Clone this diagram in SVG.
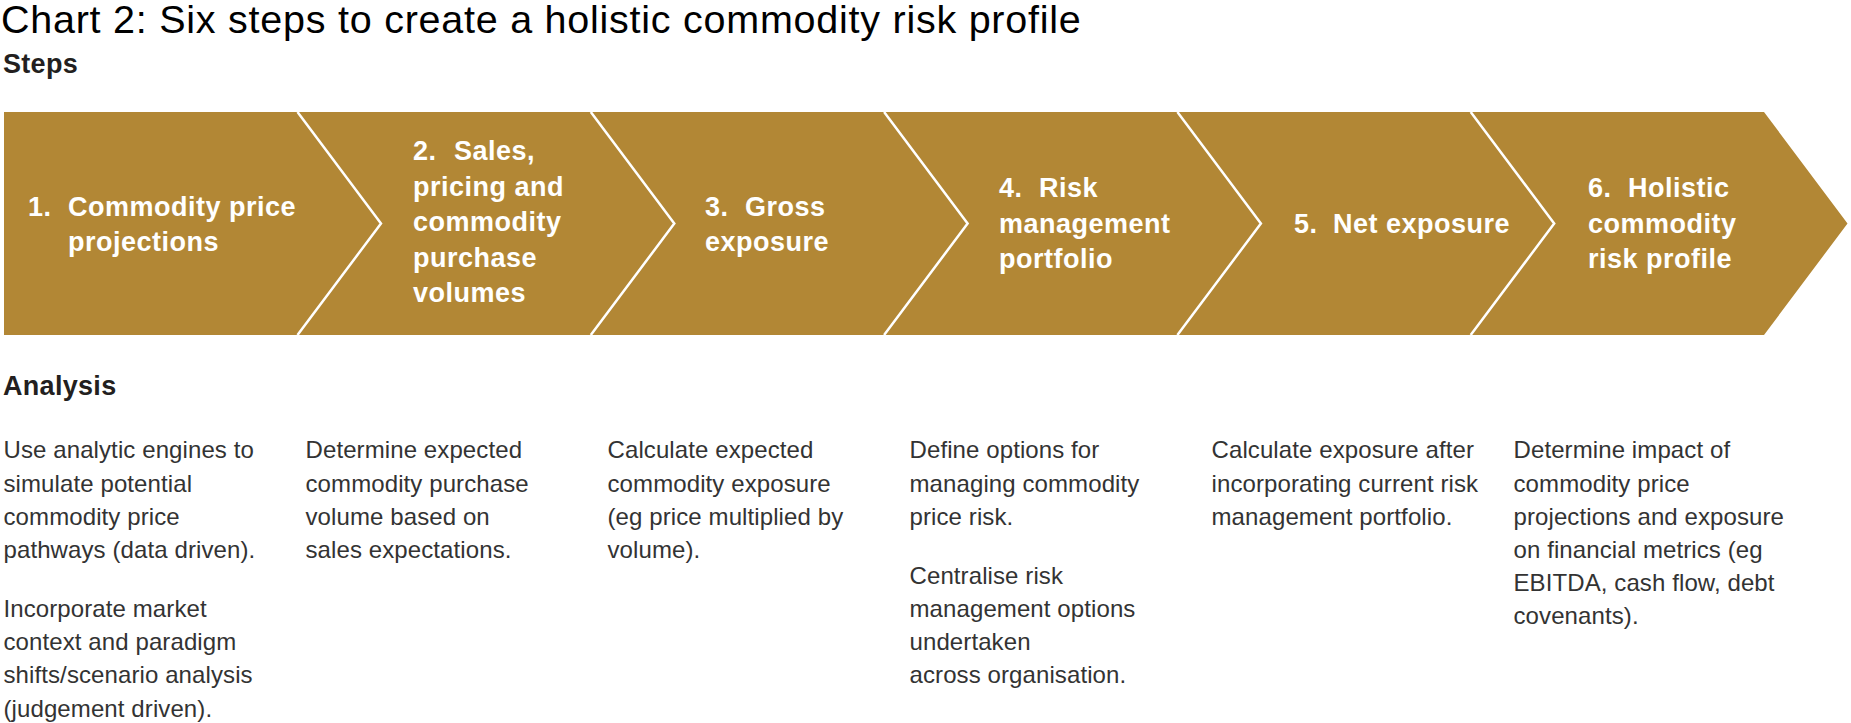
<svg xmlns="http://www.w3.org/2000/svg" width="1851" height="723" viewBox="0 0 1851 723">
<style>
.bg{fill:#ffffff}
.band{fill:#B28735}
.sep{fill:none;stroke:#ffffff;stroke-width:2.5;stroke-linejoin:miter}
.title{font-family:"Liberation Sans",Arial,sans-serif;font-size:39.5px;fill:#000000;letter-spacing:0.75px}
.head{font-family:"Liberation Sans",Arial,sans-serif;font-size:27px;font-weight:bold;fill:#231F20;letter-spacing:0.3px}
.step{font-family:"Liberation Sans",Arial,sans-serif;font-size:27px;font-weight:bold;fill:#ffffff;letter-spacing:0.5px}
.body{font-family:"Liberation Sans",Arial,sans-serif;font-size:24px;fill:#333333;letter-spacing:0.1px}
</style>
<rect class="bg" x="0" y="0" width="1851" height="723"/>
<text class="title" x="1" y="33">Chart 2: Six steps to create a holistic commodity risk profile</text>
<text class="head" x="3" y="73">Steps</text>

<g id="step1">
<polygon class="band" points="4,112 297.5,112 381,223.5 297.5,335 4,335"/>
<text class="step"><tspan x="28" y="215.5">1.</tspan><tspan x="68" y="215.5">Commodity price</tspan><tspan x="68" y="250.5">projections</tspan></text>
</g>
<g id="step2">
<polygon class="band" points="297.5,112 590.8,112 674.3,223.5 590.8,335 297.5,335 381,223.5"/>
<text class="step"><tspan x="413" y="160">2.</tspan><tspan x="454" y="160">Sales,</tspan><tspan x="413" y="195.5">pricing and</tspan><tspan x="413" y="231">commodity</tspan><tspan x="413" y="266.5">purchase</tspan><tspan x="413" y="302">volumes</tspan></text>
</g>
<g id="step3">
<polygon class="band" points="590.8,112 884.1,112 967.6,223.5 884.1,335 590.8,335 674.3,223.5"/>
<text class="step"><tspan x="705" y="215.5">3.</tspan><tspan x="745" y="215.5">Gross</tspan><tspan x="705" y="250.5">exposure</tspan></text>
</g>
<g id="step4">
<polygon class="band" points="884.1,112 1177.4,112 1260.9,223.5 1177.4,335 884.1,335 967.6,223.5"/>
<text class="step"><tspan x="999" y="197">4.</tspan><tspan x="1039" y="197">Risk</tspan><tspan x="999" y="232.5">management</tspan><tspan x="999" y="268">portfolio</tspan></text>
</g>
<g id="step5">
<polygon class="band" points="1177.4,112 1470.7,112 1554.2,223.5 1470.7,335 1177.4,335 1260.9,223.5"/>
<text class="step"><tspan x="1294" y="233">5.</tspan><tspan x="1333" y="233">Net exposure</tspan></text>
</g>
<g id="step6">
<polygon class="band" points="1470.7,112 1764,112 1847.5,223.5 1764,335 1470.7,335 1554.2,223.5"/>
<text class="step"><tspan x="1588" y="197">6.</tspan><tspan x="1628" y="197">Holistic</tspan><tspan x="1588" y="232.5">commodity</tspan><tspan x="1588" y="268">risk profile</tspan></text>
</g>

<g id="connectors">
<polyline class="sep" points="297.5,112 381,223.5 297.5,335"/>
<polyline class="sep" points="590.8,112 674.3,223.5 590.8,335"/>
<polyline class="sep" points="884.1,112 967.6,223.5 884.1,335"/>
<polyline class="sep" points="1177.4,112 1260.9,223.5 1177.4,335"/>
<polyline class="sep" points="1470.7,112 1554.2,223.5 1470.7,335"/>
</g>

<text class="head" x="3" y="395">Analysis</text>

<g id="analysis1">
<text class="body"><tspan x="3.5" y="458.3">Use analytic engines to</tspan><tspan x="3.5" y="491.5">simulate potential</tspan><tspan x="3.5" y="524.7">commodity price</tspan><tspan x="3.5" y="557.9">pathways (data driven).</tspan><tspan x="3.5" y="617">Incorporate market</tspan><tspan x="3.5" y="650.2">context and paradigm</tspan><tspan x="3.5" y="683.4">shifts/scenario analysis</tspan><tspan x="3.5" y="716.6">(judgement driven).</tspan></text>
</g>
<g id="analysis2">
<text class="body"><tspan x="305.5" y="458.3">Determine expected</tspan><tspan x="305.5" y="491.5">commodity purchase</tspan><tspan x="305.5" y="524.7">volume based on</tspan><tspan x="305.5" y="557.9">sales expectations.</tspan></text>
</g>
<g id="analysis3">
<text class="body"><tspan x="607.5" y="458.3">Calculate expected</tspan><tspan x="607.5" y="491.5">commodity exposure</tspan><tspan x="607.5" y="524.7">(eg price multiplied by</tspan><tspan x="607.5" y="557.9">volume).</tspan></text>
</g>
<g id="analysis4">
<text class="body"><tspan x="909.5" y="458.3">Define options for</tspan><tspan x="909.5" y="491.5">managing commodity</tspan><tspan x="909.5" y="524.7">price risk.</tspan><tspan x="909.5" y="583.8">Centralise risk</tspan><tspan x="909.5" y="617">management options</tspan><tspan x="909.5" y="650.2">undertaken</tspan><tspan x="909.5" y="683.4">across organisation.</tspan></text>
</g>
<g id="analysis5">
<text class="body"><tspan x="1211.5" y="458.3">Calculate exposure after</tspan><tspan x="1211.5" y="491.5">incorporating current risk</tspan><tspan x="1211.5" y="524.7">management portfolio.</tspan></text>
</g>
<g id="analysis6">
<text class="body"><tspan x="1513.5" y="458.3">Determine impact of</tspan><tspan x="1513.5" y="491.5">commodity price</tspan><tspan x="1513.5" y="524.7">projections and exposure</tspan><tspan x="1513.5" y="557.9">on financial metrics (eg</tspan><tspan x="1513.5" y="591.1">EBITDA, cash flow, debt</tspan><tspan x="1513.5" y="624.3">covenants).</tspan></text>
</g>
</svg>
